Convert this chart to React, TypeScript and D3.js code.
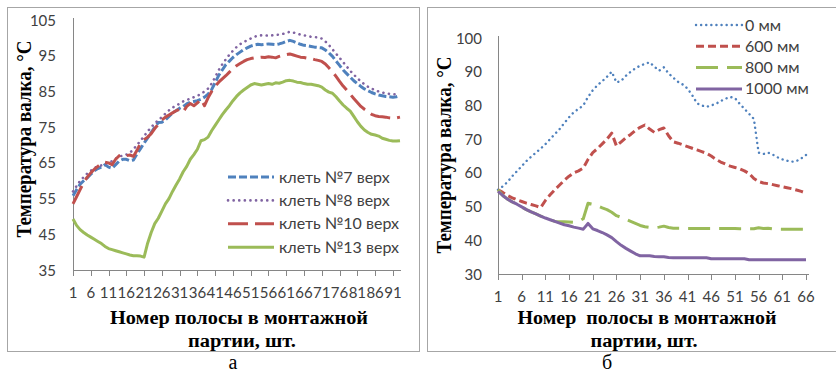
import React from 'react'
import * as d3 from 'd3'

// left chart: клеть №7 / №8 / №10 / №13 верх, 93 strips
const stand7 = [55.8, 57.5, 59.0, 60.0, 60.8, 61.8, 62.8, 63.4, 63.8, 64.5,
  63.8, 63.5, 64.5, 65.5, 66.0, 66.0, 65.6, 65.8, 67.5, 69.0,
  70.5, 72.0, 73.5, 75.0, 76.3, 76.4, 77.0, 78.0, 79.0, 79.6,
  80.3, 80.8, 81.5, 82.0, 82.2, 82.4, 82.8, 83.4, 84.2, 85.5,
  87.5, 89.5, 91.0, 92.5, 93.5, 94.5, 95.3, 96.0, 96.7, 97.2,
  97.7, 98.0, 98.2, 98.1, 98.2, 98.3, 98.2, 98.1, 98.3, 98.6,
  99.0, 99.3, 99.0, 98.6, 98.2, 97.9, 97.8, 97.6, 97.4, 97.3,
  97.2, 96.6, 95.8, 94.8, 93.5, 92.3, 91.0, 90.0, 89.0, 88.0,
  87.2, 86.4, 85.7, 85.2, 84.7, 84.3, 84.0, 83.8, 83.6, 83.5,
  83.4, 83.5, 83.8]
const stand8 = [57.0, 58.5, 60.0, 61.0, 62.0, 62.8, 63.6, 64.0, 64.3, 64.6,
  65.0, 65.5, 66.2, 66.8, 67.0, 67.3, 67.8, 68.8, 70.0, 71.2,
  72.5, 73.8, 75.0, 76.0, 77.0, 77.8, 78.8, 79.7, 80.5, 81.0,
  81.6, 82.2, 82.6, 83.0, 83.4, 83.8, 84.3, 85.0, 85.8, 87.2,
  89.0, 91.0, 92.6, 94.0, 95.3, 96.4, 97.4, 98.2, 98.8, 99.3,
  99.8, 100.3, 100.6, 100.7, 100.7, 100.6, 100.7, 100.8, 100.9, 101.1,
  101.4, 101.7, 101.5, 101.2, 100.9, 100.7, 100.5, 100.3, 100.2, 100.1,
  99.8, 99.0, 98.0, 96.8, 95.6, 94.4, 93.2, 92.0, 90.8, 89.7,
  88.7, 87.8, 87.0, 86.3, 85.8, 85.3, 85.0, 84.7, 84.5, 84.3,
  84.2, 84.2, 84.3]
const stand10 = [53.5, 55.5, 57.5, 59.5, 61.0, 62.2, 63.2, 64.0, 64.8, 65.2,
  65.0, 64.5, 66.0, 67.0, 67.4, 67.0, 67.2, 66.8, 68.5, 70.5,
  71.5, 72.2, 73.2, 74.6, 75.8, 77.0, 77.8, 78.4, 79.0, 79.6,
  80.0, 79.3, 80.8, 81.6, 81.0, 81.8, 82.8, 81.0, 83.2, 85.0,
  86.5, 87.6, 88.5, 89.4, 90.4, 91.4, 92.2, 92.8, 93.4, 93.9,
  94.2, 94.4, 94.5, 94.6, 94.5, 94.7, 94.6, 94.4, 94.8, 95.1,
  95.3, 95.5, 95.2, 94.9, 94.6, 94.5, 94.3, 94.2, 93.9, 93.7,
  93.4, 92.7, 91.6, 90.5, 89.2, 87.8, 86.5, 85.4, 84.2, 83.0,
  81.9, 80.8, 80.0, 79.3, 78.6, 78.2, 78.0, 77.9, 77.8, 77.6,
  77.5, 77.6, 77.8]
const stand13 = [49.3, 47.5, 46.3, 45.5, 44.8, 44.2, 43.6, 43.0, 42.4, 41.6,
  41.0, 40.7, 40.4, 40.1, 39.8, 39.5, 39.2, 39.0, 39.0, 38.9,
  38.6, 42.5, 45.5, 48.0, 49.5, 51.5, 53.5, 55.0, 57.0, 58.8,
  60.5, 62.5, 64.0, 66.0, 67.3, 68.8, 71.2, 71.5, 72.2, 74.0,
  75.5, 77.0, 78.5, 79.8, 81.0, 82.4, 83.6, 84.6, 85.4, 86.1,
  86.8, 87.2, 87.0, 86.8, 87.0, 87.2, 87.0, 87.4, 87.3, 87.6,
  88.0, 88.1, 87.9, 87.6, 87.5, 87.2, 87.0, 87.0, 86.8, 86.6,
  86.2, 85.4, 84.8, 84.5, 83.5, 82.3, 81.2, 80.3, 79.5, 78.0,
  76.5, 75.2, 74.2, 73.5, 73.0, 72.8, 72.5, 71.9, 71.6, 71.3,
  71.1, 71.1, 71.2]

// right chart: 0 / 600 / 800 / 1000 мм, 66 strips
const mm0 = [55.0, 56.0, 57.3, 59.0, 60.5, 62.0, 63.5, 64.8, 66.0, 67.2,
  68.5, 70.0, 71.5, 73.0, 74.8, 76.5, 78.0, 79.0, 80.0, 82.5,
  84.5, 86.0, 87.2, 88.5, 90.0, 86.8, 87.3, 88.8, 90.0, 91.0,
  91.8, 92.3, 92.8, 91.5, 90.3, 91.3, 89.5, 88.2, 87.0, 86.2,
  85.0, 83.0, 80.6, 80.0, 79.6, 80.0, 80.5, 81.3, 82.0, 82.5,
  82.2, 80.5, 79.0, 77.5, 76.0, 66.0, 65.6, 66.0, 65.4, 64.6,
  64.0, 63.6, 63.3, 63.5, 64.3, 65.3]
const mm600 = [55.0, 54.2, 53.3, 52.6, 52.0, 51.5, 51.0, 50.6, 50.2, 49.7,
  51.8, 53.5, 55.0, 56.4, 57.8, 59.0, 60.0, 60.6, 61.4, 64.0,
  66.0, 67.2, 68.6, 70.0, 71.8, 68.0, 69.2, 70.4, 71.4, 72.6,
  73.5, 74.2, 73.0, 72.0, 72.8, 73.3, 71.0, 69.2, 68.8, 68.3,
  67.8, 67.3, 66.8, 66.3, 65.8, 65.0, 64.0, 63.2, 62.6, 62.0,
  61.6, 61.2, 60.6, 59.8, 58.3, 57.4, 57.0, 56.8, 56.5, 56.2,
  55.9, 55.6, 55.3, 54.9, 54.5, 54.0]
const mm800 = [55.0, 53.3, 52.2, 51.4, 50.7, 49.9, 49.1, 48.4, 47.8, 47.2,
  46.6, 46.1, 45.6, 45.5, 45.5, 45.4, 45.3, 45.6, 46.4, 51.0,
  50.7, 50.2, 49.6, 49.1, 48.3, 47.3, 46.8, 46.2, 45.6, 45.0,
  44.4, 44.0, 43.8, 43.7, 43.9, 44.2, 43.8, 43.6, 43.6, 43.6,
  43.5, 43.5, 43.5, 43.5, 43.5, 43.5, 43.5, 43.5, 43.5, 43.5,
  43.5, 43.4, 43.4, 43.4, 43.4, 43.7, 43.5, 43.6, 43.4, 43.3,
  43.3, 43.3, 43.3, 43.3, 43.3, 43.3]
const mm1000 = [54.5, 53.3, 52.2, 51.4, 50.7, 49.9, 49.1, 48.4, 47.8, 47.2,
  46.6, 46.1, 45.6, 45.1, 44.6, 44.3, 43.9, 43.6, 43.3, 45.0,
  43.4, 42.9, 42.3, 41.6, 40.8, 39.6, 38.5, 37.6, 36.8, 36.0,
  35.4, 35.4, 35.4, 35.2, 35.1, 35.1, 34.9, 34.8, 34.8, 34.8,
  34.8, 34.8, 34.8, 34.8, 34.8, 34.5, 34.5, 34.5, 34.5, 34.5,
  34.5, 34.5, 34.5, 34.2, 34.2, 34.2, 34.2, 34.2, 34.2, 34.2,
  34.2, 34.2, 34.2, 34.2, 34.2, 34.2]

const leftNames = ['клеть №7 верх', 'клеть №8 верх', 'клеть №10 верх', 'клеть №13 верх']
const rightNames = ['0 мм', '600 мм', '800 мм', '1000 мм']
const leftTicksY = d3.range(35, 106, 10)
const rightTicksY = d3.range(30, 101, 10)
const leftTicksX = d3.range(1, 94, 5)
const rightTicksX = d3.range(1, 67, 5)

const BLUE = '#4F81BD', RED = '#C0504D', GREEN = '#9BBB59', PURPLE = '#8064A2'

const leftSeries = [
  { name: leftNames[0], values: stand7, color: BLUE, dash: '8,3', width: 3, cap: 'butt' },
  { name: leftNames[1], values: stand8, color: PURPLE, dash: '0.1,5.5', width: 2.6, cap: 'round' },
  { name: leftNames[2], values: stand10, color: RED, dash: '20,7', width: 3, cap: 'butt' },
  { name: leftNames[3], values: stand13, color: GREEN, dash: null, width: 3, cap: 'butt' },
]
const rightSeries = [
  { name: rightNames[0], values: mm0, color: BLUE, dash: '0.1,5', width: 2.4, cap: 'round' },
  { name: rightNames[1], values: mm600, color: RED, dash: '8,4', width: 3, cap: 'butt' },
  { name: rightNames[2], values: mm800, color: GREEN, dash: '22,9', width: 3, cap: 'butt' },
  { name: rightNames[3], values: mm1000, color: PURPLE, dash: null, width: 3, cap: 'butt' },
]

const tickFont = "Lato, 'Noto Sans', sans-serif"
const titleFont = "'Liberation Serif', 'Times New Roman', serif"
const textColor = '#404040'
const axisColor = '#868686'
// the source picture is stretched sideways a little, rotated titles follow that
const stretch = 1.14

export default function App() {
  const xL = d3.scaleLinear().domain([1, 93]).range([73, 400])
  const yL = d3.scaleLinear().domain([35, 105]).range([270, 20])
  const xR = d3.scaleLinear().domain([1, 66]).range([498, 806])
  const yR = d3.scaleLinear().domain([30, 100]).range([274, 38])

  const lineL = d3.line<number>().x((d, i) => xL(i + 1)).y(d => yL(d))
  const lineR = d3.line<number>().x((d, i) => xR(i + 1)).y(d => yR(d))

  const title = (x: number, y: number, s: string, len: number, key: string) => (
    <text key={key} x={x - len / 2} y={y} textLength={len} lengthAdjust="spacingAndGlyphs"
      fontFamily={titleFont} fontWeight="bold" fontSize={18} fill="#000" style={{ whiteSpace: 'pre' }}>{s}</text>
  )

  return (
    <svg width={836} height={374} style={{ position: 'absolute', left: 0, top: 0, background: '#fff' }}>
      {/* frames */}
      <rect x={7.5} y={7.5} width={412} height={344} fill="none" stroke="#a6a6a6" />
      <rect x={427.5} y={7.5} width={420} height={344} fill="none" stroke="#a6a6a6" />

      {/* ---------- left chart ---------- */}
      <line x1={73.5} x2={73.5} y1={18} y2={270} stroke={axisColor} />
      <line x1={73} x2={401} y1={270.5} y2={270.5} stroke={axisColor} />
      {leftTicksX.map(t => (
        <g key={'lt' + t}>
          <line x1={Math.round(xL(t)) + 0.5} x2={Math.round(xL(t)) + 0.5} y1={270} y2={276} stroke={axisColor} />
          <text x={xL(t)} y={298} textAnchor="middle" fontFamily={tickFont} fontSize={15} fill={textColor}>{t}</text>
        </g>
      ))}
      {leftTicksY.map(t => (
        <text key={'ly' + t} x={56} y={yL(t) + 5.5} textAnchor="end" fontFamily={tickFont} fontSize={15} fill={textColor}>{t}</text>
      ))}
      {leftSeries.map(s => (
        <path key={s.name} d={lineL(s.values) || ''} fill="none" stroke={s.color} strokeWidth={s.width}
          strokeDasharray={s.dash || undefined} strokeLinecap={s.cap as any} strokeLinejoin="round" />
      ))}
      {leftSeries.map((s, i) => (
        <g key={'lg' + s.name} transform={`translate(0,${177 + i * 23.4})`}>
          <line x1={228} x2={274} y1={0} y2={0} stroke={s.color} strokeWidth={s.width}
            strokeDasharray={s.dash || undefined} strokeLinecap={s.cap as any} />
          <text x={279} y={5.5} fontFamily={tickFont} fontSize={16} fill={textColor}>{s.name}</text>
        </g>
      ))}
      <text transform={`translate(31,139) scale(${stretch},1) rotate(-90)`} textAnchor="middle" fontFamily={titleFont}
        fontWeight="bold" fontSize={19} fill="#000">Температура валка, °С</text>
      {title(239, 324, 'Номер полосы в монтажной', 258, 'lt1')}
      {title(242, 347, 'партии, шт.', 108, 'lt2')}
      <text x={233} y={369} textAnchor="middle" fontFamily={titleFont} fontSize={20} fill="#000">а</text>

      {/* ---------- right chart ---------- */}
      <line x1={498.5} x2={498.5} y1={36} y2={274} stroke={axisColor} />
      <line x1={498} x2={809} y1={274.5} y2={274.5} stroke={axisColor} />
      {rightTicksX.map(t => (
        <g key={'rt' + t}>
          <line x1={Math.round(xR(t)) + 0.5} x2={Math.round(xR(t)) + 0.5} y1={274} y2={280} stroke={axisColor} />
          <text x={xR(t)} y={302} textAnchor="middle" fontFamily={tickFont} fontSize={15} fill={textColor}>{t}</text>
        </g>
      ))}
      {rightTicksY.map(t => (
        <text key={'ry' + t} x={482} y={yR(t) + 5.5} textAnchor="end" fontFamily={tickFont} fontSize={15} fill={textColor}>{t}</text>
      ))}
      {rightSeries.map(s => (
        <path key={s.name} d={lineR(s.values) || ''} fill="none" stroke={s.color} strokeWidth={s.width}
          strokeDasharray={s.dash || undefined} strokeLinecap={s.cap as any} strokeLinejoin="round" />
      ))}
      {rightSeries.map((s, i) => (
        <g key={'rg' + s.name} transform={`translate(0,${25 + i * 21.3})`}>
          <line x1={696} x2={742} y1={0} y2={0} stroke={s.color} strokeWidth={s.width}
            strokeDasharray={s.dash || undefined} strokeLinecap={s.cap as any} />
          <text x={745} y={5.5} fontFamily={tickFont} fontSize={16} fill={textColor}>{s.name}</text>
        </g>
      ))}
      <text transform={`translate(451,155) scale(${stretch},1) rotate(-90)`} textAnchor="middle" fontFamily={titleFont}
        fontWeight="bold" fontSize={19} fill="#000">Температура валка, °С</text>
      {title(647, 324, 'Номер  полосы в монтажной', 259, 'rt1')}
      {title(644, 347, 'партии, шт.', 107, 'rt2')}
      <text x={607} y={369} textAnchor="middle" fontFamily={titleFont} fontSize={20} fill="#000">б</text>
    </svg>
  )
}
